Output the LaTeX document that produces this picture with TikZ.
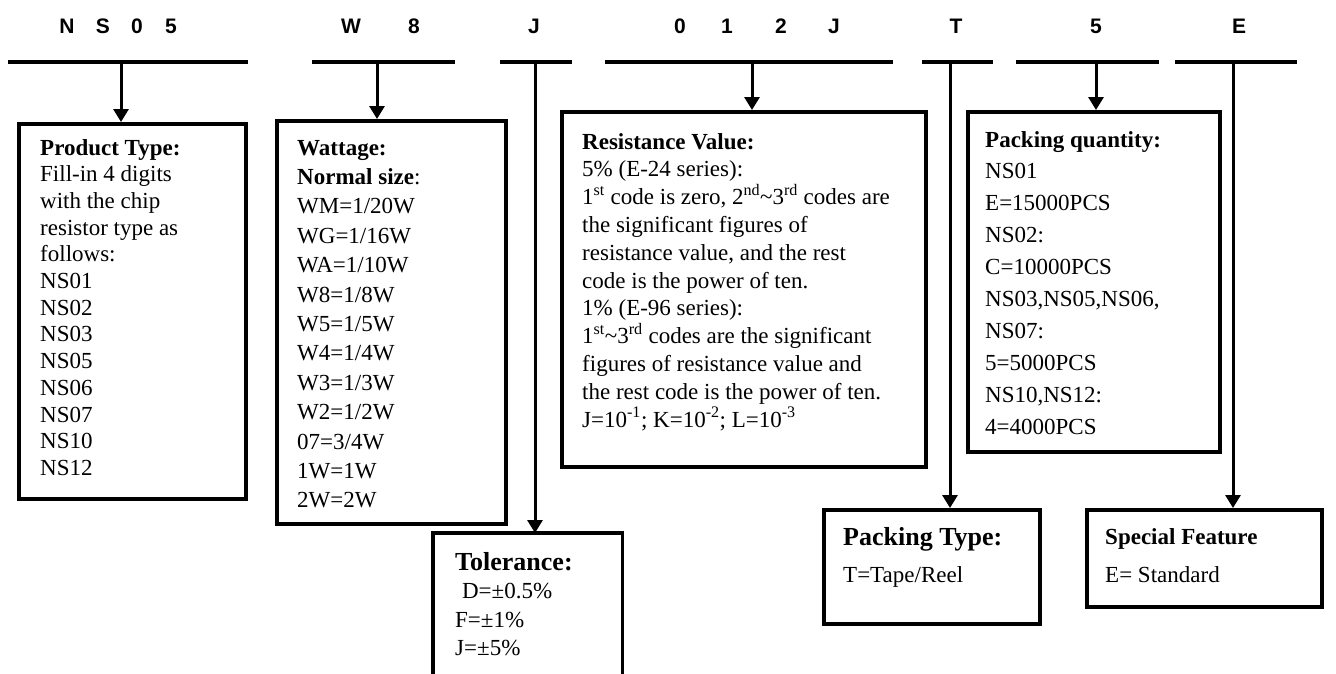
\documentclass[tikz,border=0pt]{standalone}
\usepackage{fontspec}
\setmainfont{Liberation Serif}
\newfontfamily\headfont{Liberation Sans}
\usetikzlibrary{arrows.meta}
\tikzset{
  hdr/.style={font=\headfont\bfseries\fontsize{21}{21}\selectfont, inner sep=0pt, anchor=base},
  frame/.style={draw, line width=3.5pt, inner sep=0pt, anchor=north west},
  bar/.style={line width=3.8pt},
  arr/.style={line width=3pt, -{Triangle[width=15pt,length=13pt]}},
  txt/.style={inner sep=0pt, anchor=base west},
}
\begin{document}
\begin{tikzpicture}[x=1pt,y=-1pt]
\useasboundingbox (0,0) rectangle (1336,673);

% header letters
\node[hdr] (hN)  at (67,33)   {N};
\node[hdr] (hS)  at (103,33)  {S};
\node[hdr] (h0a) at (137,33)  {0};
\node[hdr] (h5a) at (171,33)  {5};
\node[hdr] (hW)  at (351,33)  {W};
\node[hdr] (h8)  at (414,33)  {8};
\node[hdr] (hJa) at (534,33)  {J};
\node[hdr] (h0b) at (680,33)  {0};
\node[hdr] (h1)  at (727,33)  {1};
\node[hdr] (h2)  at (781,33)  {2};
\node[hdr] (hJb) at (834,33)  {J};
\node[hdr] (hT)  at (956,33)  {T};
\node[hdr] (h5b) at (1096,33) {5};
\node[hdr] (hE)  at (1239,33) {E};

% bars
\coordinate (b1l) at (8,62);    \coordinate (b1r) at (248,62);
\coordinate (b2l) at (312,62);  \coordinate (b2r) at (455,62);
\coordinate (b3l) at (500,62);  \coordinate (b3r) at (572,62);
\coordinate (b4l) at (605,62);  \coordinate (b4r) at (893,62);
\coordinate (b5l) at (922,62);  \coordinate (b5r) at (993,62);
\coordinate (b6l) at (1016,62); \coordinate (b6r) at (1159,62);
\coordinate (b7l) at (1175,62); \coordinate (b7r) at (1297,62);
\foreach \i in {1,...,7} {\draw[bar] (b\i l) -- (b\i r);}

% arrow start points
\coordinate (s1) at (121,62);
\coordinate (s2) at (377,62);
\coordinate (s3) at (535,62);
\coordinate (s4) at (752,62);
\coordinate (s5) at (950,62);
\coordinate (s6) at (1096,62);
\coordinate (s7) at (1233,62);

% boxes
\node[frame, minimum width=227pt, minimum height=375pt] (pt) at (17,122) {};
\node[frame, minimum width=229pt, minimum height=403pt] (wt) at (275,119) {};
\node[frame, minimum width=364pt, minimum height=355pt] (rv) at (560,110) {};
\node[inner sep=0pt, anchor=north west, minimum width=189pt, minimum height=145pt] (tl) at (433,533) {};
\draw[line width=3.5pt] (tl.south west) -- (tl.north west) -- (tl.north east) -- (tl.south east);
\node[frame, minimum width=252pt, minimum height=340pt] (pq) at (966,110) {};
\node[frame, minimum width=216pt, minimum height=114pt] (pk) at (822,508) {};
\node[frame, minimum width=235pt, minimum height=97pt] (sf) at (1085,508) {};

% connectors
\draw[arr] (s1) -- (s1 |- pt.north);
\draw[arr] (s2) -- (s2 |- wt.north);
\draw[arr] (s3) -- (s3 |- tl.north);
\draw[arr] (s4) -- (s4 |- rv.north);
\draw[arr] (s5) -- (s5 |- pk.north);
\draw[arr] (s6) -- (s6 |- pq.north);
\draw[arr] (s7) -- (s7 |- sf.north);

% texts
\node[txt] (tpt) at (40,155) {\parbox[t]{200pt}{\raggedright\fontsize{23}{26.7}\selectfont
\textbf{Product Type:}\\
Fill-in 4 digits\\
with the chip\\
resistor type as\\
follows:\\
NS01\\ NS02\\ NS03\\ NS05\\ NS06\\ NS07\\ NS10\\ NS12}};

\node[txt] (twt) at (297,155) {\parbox[t]{200pt}{\raggedright\fontsize{23}{29.4}\selectfont
\textbf{Wattage:}\\
\textbf{Normal size}:\\
WM=1/20W\\ WG=1/16W\\ WA=1/10W\\ W8=1/8W\\ W5=1/5W\\ W4=1/4W\\ W3=1/3W\\ W2=1/2W\\ 07=3/4W\\ 1W=1W\\ 2W=2W}};

\node[txt] (trv) at (582,149) {\parbox[t]{340pt}{\raggedright\fontsize{23}{27.8}\selectfont
\textbf{Resistance Value:}\\
5\% (E-24 series):\\
1\textsuperscript{st} code is zero, 2\textsuperscript{nd}\textasciitilde 3\textsuperscript{rd} codes are\\
the significant figures of\\
resistance value, and the rest\\
code is the power of ten.\\
1\% (E-96 series):\\
1\textsuperscript{st}\textasciitilde 3\textsuperscript{rd} codes are the significant\\
figures of resistance value and\\
the rest code is the power of ten.\\
J=10\textsuperscript{-1}; K=10\textsuperscript{-2}; L=10\textsuperscript{-3}}};

\node[txt] (ttl) at (455,570) {\parbox[t]{160pt}{\raggedright\fontsize{23}{28.5}\selectfont
{\fontsize{26}{28.5}\selectfont\textbf{Tolerance:}}\\
\hspace*{0.3em}D=±0.5\%\\
F=±1\%\\
J=±5\%}};

\node[txt] (tpq) at (985,147) {\parbox[t]{230pt}{\raggedright\fontsize{23}{31.9}\selectfont
\textbf{Packing quantity:}\\
NS01\\ E=15000PCS\\ NS02:\\ C=10000PCS\\ NS03,NS05,NS06,\\ NS07:\\ 5=5000PCS\\ NS10,NS12:\\ 4=4000PCS}};

\node[txt] (tpk) at (843,545) {\parbox[t]{190pt}{\raggedright\fontsize{23}{37}\selectfont
{\fontsize{26}{37}\selectfont\textbf{Packing Type:}}\\
T=Tape/Reel}};

\node[txt] (tsf) at (1105,544) {\parbox[t]{210pt}{\raggedright\fontsize{23}{38}\selectfont
\textbf{Special Feature}\\
E= Standard}};
\end{tikzpicture}
\end{document}
